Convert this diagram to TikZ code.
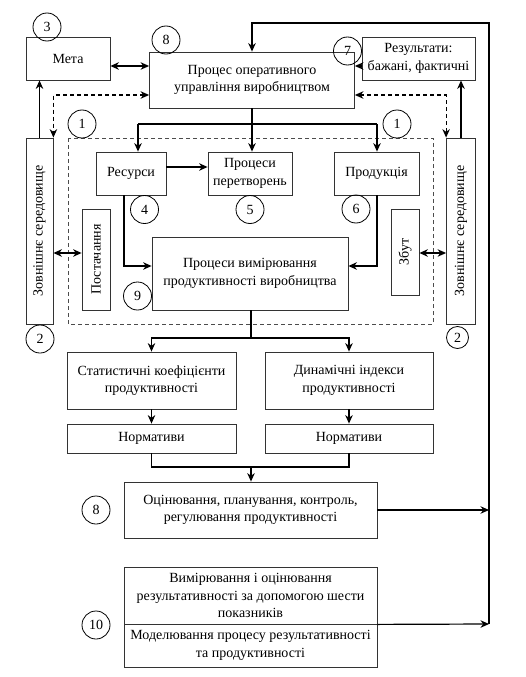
\documentclass[tikz,border=0pt]{standalone}
\usepackage{fontspec}
\setmainfont{Liberation Serif}
\usetikzlibrary{arrows.meta,positioning,calc}

\begin{document}
\begin{tikzpicture}[x=1pt, y=-1pt,
    font=\fontsize{14}{17.5}\selectfont,
    box/.style={draw=black!80, line width=0.8pt, align=center, inner sep=1pt},
    num/.style={draw, circle, line width=0.8pt, minimum size=28pt, inner sep=0pt},
    arr/.style={-{Stealth[length=8.5pt,width=7.5pt]}, line width=1.2pt},
    darr/.style={{Stealth[length=8.5pt,width=7.5pt]}-{Stealth[length=8.5pt,width=7.5pt]}, line width=1.2pt},
    dsh/.style={dash pattern=on 4pt off 3pt}]
    \useasboundingbox (0,0) rectangle (526,677);

    % Top level
    \node[box, minimum width=84pt, minimum height=43pt] (meta) at (68,58.5) {Мета};
    \node[box, minimum width=205pt, minimum height=56pt] (proc) at (252,80) {Процес оперативного\\управління виробництвом};
    \node[box, minimum width=113pt, minimum height=43pt] (rez) at (418.5,58.5) {Результати:\\бажані, фактичні};
    \node[box, minimum width=27pt, minimum height=186pt] (envL) at (39.5,231) {\rotatebox{90}{Зовнішнє середовище}};
    \node[box, minimum width=29pt, minimum height=186pt] (envR) at (461,231) {\rotatebox{90}{Зовнішнє середовище}};

    % Production system (dashed frame)
    \draw[black!70, line width=0.8pt, dsh] (68,138) rectangle (433,324);
    \node[box, minimum width=70pt, minimum height=43pt] (res) at (131,173.5) {Ресурси};
    \node[box, minimum width=84pt, minimum height=43pt] (pere) at (250,173.5) {Процеси\\перетворень};
    \node[box, minimum width=85pt, minimum height=43pt] (prod) at (376.5,173.5) {Продукція};
    \node[box, minimum width=28pt, minimum height=101pt] (post) at (96,259.5) {\rotatebox{90}{Постачання}};
    \node[box, minimum width=28pt, minimum height=86pt] (zbut) at (405,252) {\rotatebox{90}{Збут}};
    \node[box, minimum width=196pt, minimum height=73pt] (vym) at (250,273.5) {Процеси вимірювання\\продуктивності виробництва};

    % Indicators
    \node[box, minimum width=169pt, minimum height=57pt] (stat) at (151.5,380.5) {Статистичні коефіцієнти\\продуктивності};
    \node[box, minimum width=168pt, minimum height=57pt] (dyn) at (349,380.5) {Динамічні індекси\\продуктивності};
    \node[box, minimum width=169pt, minimum height=29pt] (norm1) at (151.5,438.5) {Нормативи};
    \node[box, minimum width=168pt, minimum height=29pt] (norm2) at (349,438.5) {Нормативи};
    \node[box, minimum width=253pt, minimum height=56pt] (ocin) at (250.5,510) {Оцінювання, планування, контроль,\\регулювання продуктивності};
    \node[box, minimum width=253pt, minimum height=57pt] (vymir) at (250.5,595.5) {Вимірювання і оцінювання\\результативності за допомогою шести\\показників};
    \node[box, minimum width=253pt, minimum height=43pt] (model) at (250.5,645.5) {Моделювання процесу результативності\\та продуктивності};

    % Numbers
    \node[num] (n3) at (47,27) {3};
    \node[num] (n8a) at (166,40) {8};
    \node[num] (n7) at (347.5,51) {7};
    \node[num] (n1a) at (82,124) {1};
    \node[num] (n1b) at (397,124) {1};
    \node[num] (n4) at (144.5,209.5) {4};
    \node[num] (n5) at (250,209.5) {5};
    \node[num] (n6) at (356,209) {6};
    \node[num] (n9) at (137.5,296) {9};
    \node[num] (n2a) at (40,339) {2};
    \node[num, minimum size=22pt] (n2b) at (457.5,337.5) {2};
    \node[num] (n8b) at (96,510) {8};
    \node[num] (n10) at (96,625) {10};

    % Helper coordinates
    \coordinate (y1) at (0,66);
    \coordinate (y2) at (0,95);
    \coordinate (h1) at (138,124);
    \coordinate (h2) at (377,124);
    \coordinate (y3) at (0,167);
    \coordinate (r4) at (124,266);
    \coordinate (y5) at (0,253);
    \coordinate (s1) at (251,338);
    \coordinate (s2) at (251,467);
    \coordinate (fb1) at (489,624);
    \coordinate (fb2) at (489,23);

    % Connectors: top level
    \draw[darr] (meta.east |- y1) -- (proc.west |- y1);
    \draw[arr] (rez.west |- y1) -- (proc.east |- y1);
    \draw[arr] (envL.north) -- (envL.north |- meta.south);
    \draw[arr] (envR.north) -- (envR.north |- rez.south);
    \draw[darr, dsh] (proc.west |- y2) -| (envL.north east);
    \draw[darr, dsh] (proc.east |- y2) -| (envR.north west);

    % Connectors: production system
    \draw[arr] (proc.south) -- (proc.south |- pere.north);
    \draw[line width=1.2pt] (h1) -- (h2);
    \draw[arr] (h1) -- (h1 |- res.north);
    \draw[arr] (h2) -- (h2 |- prod.north);
    \draw[arr] (res.east |- y3) -- (pere.west |- y3);
    \draw[arr] (r4 |- res.south) -- (r4) -- (r4 -| vym.west);
    \draw[arr] (h2 |- prod.south) |- (vym.east |- r4);
    \draw[darr] (envL.east |- y5) -- (post.west |- y5);
    \draw[darr] (zbut.east |- y5) -- (envR.west |- y5);

    % Connectors: indicators
    \draw[line width=1.2pt] (s1 |- vym.south) -- (s1);
    \draw[arr] (s1) -| (stat.north);
    \draw[arr] (s1) -| (dyn.north);
    \draw[arr] (stat.south) -- (norm1.north);
    \draw[arr] (dyn.south) -- (norm2.north);
    \draw[line width=1.2pt] (norm1.south) |- (s2) -| (norm2.south);
    \draw[arr] (s2) -- (s2 |- ocin.north);

    % Feedback
    \draw[arr] (ocin.east) -- (ocin.east -| fb1);
    \draw[arr] (vymir.south east) -- (fb1);
    \draw[arr] (fb1) -- (fb2) -| (proc.north);
\end{tikzpicture}
\end{document}
